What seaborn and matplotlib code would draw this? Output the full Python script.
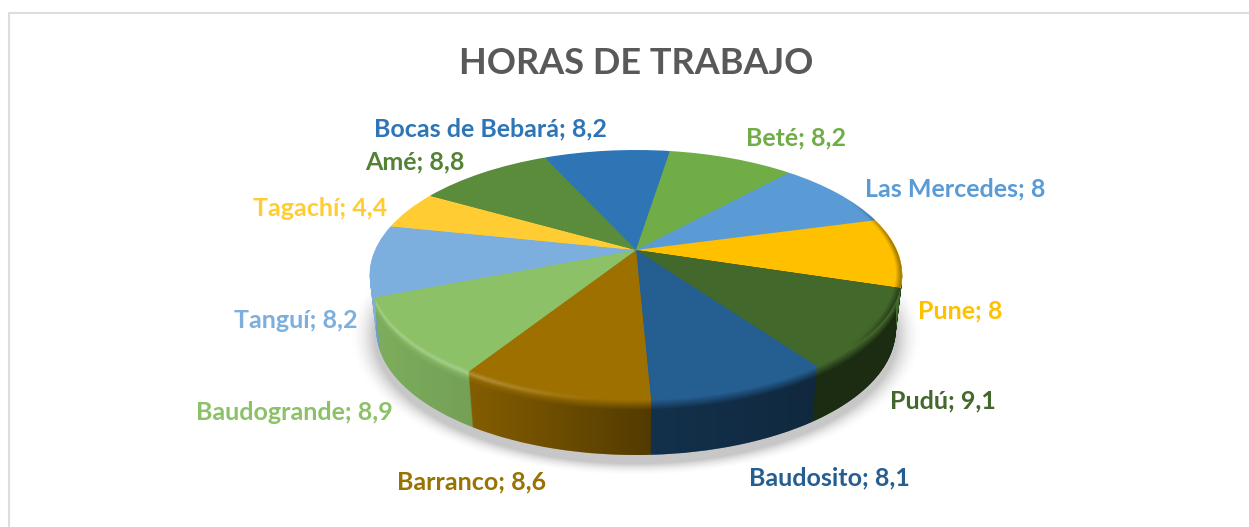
import numpy as np
import matplotlib
matplotlib.use("Agg")
import matplotlib.pyplot as plt
import seaborn as sns
from matplotlib.path import Path
from matplotlib.transforms import Transform

places = ["Bocas de Bebará", "Beté", "Las Mercedes", "Pune", "Pudú", "Baudosito",
          "Barranco", "Baudogrande", "Tanguí", "Tagachí", "Amé"]
hours = [8.2, 8.2, 8, 8, 9.1, 8.1, 8.6, 8.9, 8.2, 4.4, 8.8]
slice_colors = ["#2E75B6", "#70AD47", "#5B9BD5", "#FFC000", "#43682B", "#255E91",
                "#9E7000", "#8CC168", "#7CAFDD", "#FFCD33", "#5A8C3B"]
label_colors = ["#2E75B6", "#70AD47", "#5B9BD5", "#FFC000", "#43682B", "#255E91",
                "#997300", "#8CC168", "#7CAFDD", "#FFCD33", "#548235"]
label_xy = [(490, 129), (796, 138), (955, 189), (960, 311), (943, 401), (829, 478),
            (472, 482), (294, 412), (296, 320), (320, 208), (415, 162)]

W, H = 1249, 527
CX, CY = 636, 250
A, B, K = 261, 120, 0.2
DEPTH = 55
START = 114.4


class Tilt(Transform):
    # disc coordinates -> picture pixels, with perspective
    input_dims = 2
    output_dims = 2

    def __init__(self, drop=0):
        super().__init__()
        self.drop = drop

    def transform_non_affine(self, values):
        values = np.asarray(values, dtype=float)
        w = 1 + K * values[:, 1]
        shrink = 1 - 0.025 * self.drop / DEPTH
        x = CX + shrink * A * values[:, 0] / w
        y = CY - B * values[:, 1] / w + self.drop
        return np.column_stack([x, y])

    def transform_path_non_affine(self, path):
        return Path(self.transform_non_affine(path.vertices), path.codes)


def rim(drop):
    # front edge of the disc, from the left extreme to the right extreme
    t = np.radians(np.linspace(191.6, 348.4, 721))
    return Tilt(drop).transform_non_affine(np.column_stack([np.cos(t), np.sin(t)]))


def draw_pie(ax, palette, drop, z):
    wedges, _ = ax.pie(hours, colors=palette, startangle=START, counterclock=False, radius=1)
    for w in wedges:
        w.set_transform(Tilt(drop) + ax.transData)
        w.set_zorder(z)
        w.set_edgecolor("none")
        w.set_linewidth(0)


sns.set_theme(style="white")
plt.rcParams["font.family"] = ["Lato", "DejaVu Sans"]

fig = plt.figure(figsize=(W / 100, H / 100), dpi=100, facecolor="white")
ax = fig.add_axes([0, 0, 1, 1])
palette = sns.color_palette(slice_colors)
# the Pune wall only shows as a sliver next to Pudú, keep it dark
wall_palette = list(palette)
wall_palette[3] = "#1E2C10"

xx, yy = np.meshgrid(np.arange(W) + 0.5, np.arange(H) + 0.5)

# soft shadow under the disc
dist = np.sqrt(((xx - CX) / 264) ** 2 + ((yy - (CY + 25 + DEPTH + 6)) / 129) ** 2)
shadow = np.zeros((H, W, 4))
shadow[..., 3] = 0.22 * np.clip((1.09 - dist) / 0.10, 0, 1) ** 2
ax.imshow(shadow, extent=(0, W, H, 0), aspect="auto", zorder=1, interpolation="bilinear")

# side wall
for drop in range(DEPTH, 0, -1):
    draw_pie(ax, wall_palette, drop, 2)

# wall shading
front = rim(0)
back = rim(DEPTH)
y_top = np.interp(xx, front[:, 0], front[:, 1])
y_bot = np.interp(xx, back[:, 0], back[:, 1], left=0, right=0)
depth_in = yy - y_top
base = np.interp(xx, [370, 470, 650, 810, 900], [0.10, 0.17, 0.48, 0.57, 0.57])
# wall: darker with x and quickly darker below the rim
dark = base * np.clip(depth_in / 10, 0, 1)
inside = np.clip(y_bot - yy + 0.5, 0, 1)
over = np.zeros((H, W, 4))
over[..., 3] = dark * inside
ax.imshow(over, extent=(0, W, H, 0), aspect="auto", zorder=3, interpolation="bilinear")

# light rim on the left part
glow = np.ones((H, W, 4))
band = np.clip(1 - np.abs(depth_in - 1) / 4, 0, 1)
glow[..., 3] = 0.22 * band * np.clip((600 - xx) / 120, 0, 1) * inside
ax.imshow(glow, extent=(0, W, H, 0), aspect="auto", zorder=4, interpolation="bilinear")

# dark line just inside the right edge of the top face
yn = (CY - yy) / B
v = yn / (1 - K * yn)
u = (xx - CX) * (1 + K * v) / A
r = np.sqrt(u ** 2 + v ** 2)
edge = np.zeros((H, W, 4))
edge[..., 3] = (0.45 * np.clip((r - 0.975) / 0.025, 0, 1) * np.clip((xx - 850) / 40, 0, 1)
                * np.clip((1.0 - r) / 0.004, 0, 1))
ax.imshow(edge, extent=(0, W, H, 0), aspect="auto", zorder=4, interpolation="bilinear")

# top face
draw_pie(ax, palette, 0, 3.5)

ax.set_xlim(0, W)
ax.set_ylim(H, 0)
ax.set_aspect("auto")
ax.axis("off")

# frame
ax.plot([9, 9, W], [H, 12.5, 12.5], color="#DDDDDD", lw=1.5, zorder=0)

ax.text(636, 63, "HORAS DE TRABAJO", ha="center", va="center", fontsize=26,
        fontweight="bold", color="#595959", zorder=6)

for name, value, color, (x, y) in zip(places, hours, label_colors, label_xy):
    text = f"{name}; {value:g}".replace(".", ",")
    ax.text(x, y, text, ha="center", va="center", fontsize=18, fontweight="bold",
            color=color, zorder=6)

fig.savefig("out.png", dpi=100, facecolor="white")
